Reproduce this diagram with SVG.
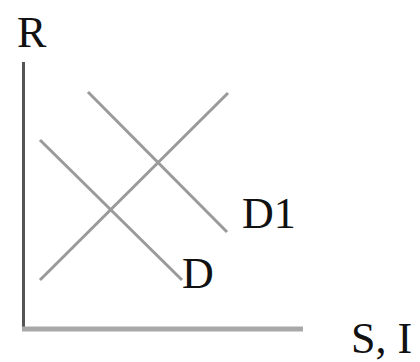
<svg xmlns="http://www.w3.org/2000/svg" width="420" height="362" viewBox="0 0 420 362">
<style>
.lbl{font-family:"Liberation Serif","Times New Roman",serif;font-size:44px;fill:#111}
.curve{stroke:#9a9a9a;stroke-width:3;fill:none;stroke-linecap:butt}
</style>
<rect width="420" height="362" fill="#fff"/>
<g id="axes">
<line x1="23.5" y1="62" x2="23.5" y2="330" stroke="#555" stroke-width="3"/>
<line x1="22" y1="329" x2="303" y2="329" stroke="#a8a8a8" stroke-width="5"/>
</g>
<g id="connectors">
<line class="curve" x1="40" y1="280" x2="228" y2="93"/>
<line class="curve" x1="40" y1="140" x2="182" y2="280"/>
<line class="curve" x1="88" y1="92" x2="227" y2="232"/>
</g>
<g id="label-R"><text class="lbl" x="17" y="47">R</text></g>
<g id="label-D1"><text class="lbl" x="242" y="228">D1</text></g>
<g id="label-D"><text class="lbl" x="182" y="288">D</text></g>
<g id="label-SI"><text class="lbl" x="351" y="353">S, I</text></g>
</svg>
